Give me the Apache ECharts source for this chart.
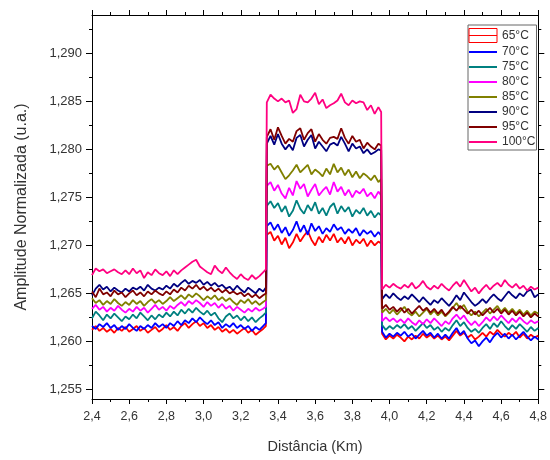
<!DOCTYPE html>
<html>
<head>
<meta charset="utf-8">
<title>Amplitude Normalizada x Distância</title>
<script src="https://cdn.jsdelivr.net/npm/echarts@6/dist/echarts.min.js"></script>
<style>
  html, body { margin: 0; padding: 0; background: #fff; }
  #chart { width: 550px; height: 460px; }
</style>
</head>
<body>
<div id="chart"></div>
<script>
// Distance along the fibre (km)
const distance = [
  2.40, 2.42, 2.44, 2.46, 2.48, 2.50, 2.52, 2.54, 2.56, 2.58,
  2.60, 2.62, 2.64, 2.66, 2.68, 2.70, 2.72, 2.74, 2.76, 2.78,
  2.80, 2.82, 2.84, 2.86, 2.88, 2.90, 2.92, 2.94, 2.96, 2.98,
  3.00, 3.02, 3.04, 3.06, 3.08, 3.10, 3.12, 3.14, 3.16, 3.18,
  3.20, 3.22, 3.24, 3.26, 3.28, 3.30, 3.32, 3.335,
  3.34, 3.36, 3.38, 3.40, 3.42, 3.44, 3.46, 3.48, 3.50, 3.52,
  3.54, 3.56, 3.58, 3.60, 3.62, 3.64, 3.66, 3.68, 3.70, 3.72,
  3.74, 3.76, 3.78, 3.80, 3.82, 3.84, 3.86, 3.88, 3.90, 3.92,
  3.94, 3.955,
  3.96, 3.98, 4.00, 4.02, 4.04, 4.06, 4.08, 4.10, 4.12, 4.14,
  4.16, 4.18, 4.20, 4.22, 4.24, 4.26, 4.28, 4.30, 4.32, 4.34,
  4.36, 4.38, 4.40, 4.42, 4.44, 4.46, 4.48, 4.50, 4.52, 4.54,
  4.56, 4.58, 4.60, 4.62, 4.64, 4.66, 4.68, 4.70, 4.72, 4.74,
  4.76, 4.78, 4.80
];

// Normalised amplitude (u.a.) for each temperature
const amp65 = [
  1.2612, 1.2616, 1.2611, 1.2614, 1.2610, 1.2613, 1.2609, 1.2614, 1.2611, 1.2615,
  1.2610, 1.2613, 1.2616, 1.2611, 1.2614, 1.2609, 1.2612, 1.2615, 1.2610, 1.2613,
  1.2617, 1.2612, 1.2615, 1.2611, 1.2616, 1.2619, 1.2614, 1.2618, 1.2621, 1.2616,
  1.2619, 1.2614, 1.2617, 1.2612, 1.2615, 1.2610, 1.2613, 1.2609, 1.2612, 1.2608,
  1.2611, 1.2614, 1.2609, 1.2612, 1.2607, 1.2610, 1.2613, 1.2616,
  1.2711, 1.2714, 1.2705, 1.2710, 1.2701, 1.2708, 1.2697, 1.2703, 1.2712, 1.2704,
  1.2710, 1.2715, 1.2706, 1.2700, 1.2709, 1.2703, 1.2711, 1.2705, 1.2712, 1.2703,
  1.2708, 1.2702, 1.2709, 1.2700, 1.2706, 1.2702, 1.2707, 1.2699, 1.2705, 1.2700,
  1.2704, 1.2702,
  1.2608, 1.2602, 1.2606, 1.2603, 1.2607, 1.2604, 1.2600, 1.2605, 1.2602, 1.2606,
  1.2603, 1.2608, 1.2604, 1.2607, 1.2603, 1.2606, 1.2602, 1.2605, 1.2601, 1.2606,
  1.2611, 1.2606, 1.2609, 1.2604, 1.2607, 1.2602, 1.2605, 1.2609, 1.2605, 1.2610,
  1.2607, 1.2612, 1.2608, 1.2605, 1.2609, 1.2606, 1.2610, 1.2604, 1.2608, 1.2603,
  1.2607, 1.2604, 1.2606
];
const amp70 = [
  1.2616, 1.2613, 1.2618, 1.2615, 1.2619, 1.2614, 1.2617, 1.2612, 1.2616, 1.2613,
  1.2618, 1.2614, 1.2611, 1.2616, 1.2613, 1.2617, 1.2614, 1.2619, 1.2615, 1.2618,
  1.2614, 1.2619, 1.2616, 1.2621, 1.2617, 1.2622, 1.2619, 1.2624, 1.2620, 1.2625,
  1.2621, 1.2618, 1.2622, 1.2617, 1.2620, 1.2614, 1.2618, 1.2615, 1.2619, 1.2614,
  1.2617, 1.2613, 1.2616, 1.2611, 1.2615, 1.2612, 1.2616, 1.2619,
  1.2720, 1.2724, 1.2716, 1.2722, 1.2713, 1.2719, 1.2710, 1.2716, 1.2725, 1.2714,
  1.2721, 1.2711, 1.2723, 1.2715, 1.2720, 1.2712, 1.2718, 1.2714, 1.2722, 1.2716,
  1.2719, 1.2712, 1.2717, 1.2713, 1.2718, 1.2710, 1.2716, 1.2712, 1.2715, 1.2709,
  1.2714, 1.2710,
  1.2610, 1.2604, 1.2608, 1.2605, 1.2609, 1.2606, 1.2610, 1.2605, 1.2608, 1.2603,
  1.2607, 1.2611, 1.2606, 1.2609, 1.2604, 1.2608, 1.2603, 1.2607, 1.2603, 1.2609,
  1.2614, 1.2607, 1.2611, 1.2603, 1.2598, 1.2601, 1.2595, 1.2600, 1.2604, 1.2599,
  1.2605, 1.2609, 1.2604, 1.2608, 1.2603, 1.2607, 1.2602, 1.2606, 1.2610, 1.2605,
  1.2601, 1.2605, 1.2602
];
const amp75 = [
  1.2624, 1.2631, 1.2627, 1.2622, 1.2628, 1.2624, 1.2629, 1.2625, 1.2621, 1.2626,
  1.2623, 1.2628, 1.2624, 1.2630, 1.2626, 1.2622, 1.2627, 1.2623, 1.2628, 1.2625,
  1.2630, 1.2626, 1.2631, 1.2627, 1.2633, 1.2629, 1.2634, 1.2630, 1.2635, 1.2631,
  1.2628, 1.2632, 1.2627, 1.2630, 1.2624, 1.2620, 1.2626, 1.2629, 1.2624, 1.2627,
  1.2622, 1.2626, 1.2621, 1.2625, 1.2620, 1.2624, 1.2627, 1.2630,
  1.2741, 1.2746, 1.2739, 1.2744, 1.2735, 1.2741, 1.2730, 1.2736, 1.2747, 1.2738,
  1.2733, 1.2742, 1.2736, 1.2745, 1.2733, 1.2739, 1.2731, 1.2740, 1.2744, 1.2733,
  1.2741, 1.2735, 1.2740, 1.2730, 1.2737, 1.2733, 1.2739, 1.2731, 1.2736, 1.2729,
  1.2734, 1.2731,
  1.2617, 1.2612, 1.2616, 1.2613, 1.2617, 1.2614, 1.2618, 1.2613, 1.2616, 1.2611,
  1.2615, 1.2619, 1.2614, 1.2617, 1.2612, 1.2615, 1.2610, 1.2614, 1.2611, 1.2617,
  1.2622, 1.2616, 1.2620, 1.2614, 1.2610, 1.2613, 1.2609, 1.2614, 1.2618, 1.2613,
  1.2619, 1.2615, 1.2621, 1.2616, 1.2612, 1.2617, 1.2613, 1.2618, 1.2614, 1.2610,
  1.2615, 1.2611, 1.2614
];
const amp80 = [
  1.2634, 1.2638, 1.2633, 1.2636, 1.2631, 1.2635, 1.2632, 1.2637, 1.2633, 1.2630,
  1.2634, 1.2631, 1.2636, 1.2632, 1.2635, 1.2630, 1.2634, 1.2638, 1.2633, 1.2636,
  1.2632, 1.2637, 1.2634, 1.2638, 1.2641, 1.2637, 1.2642, 1.2639, 1.2643, 1.2640,
  1.2636, 1.2641, 1.2637, 1.2640, 1.2635, 1.2639, 1.2634, 1.2637, 1.2632, 1.2636,
  1.2633, 1.2630, 1.2634, 1.2631, 1.2635, 1.2632, 1.2634, 1.2636,
  1.2762, 1.2766, 1.2757, 1.2763, 1.2754, 1.2749, 1.2760, 1.2752, 1.2767, 1.2759,
  1.2764, 1.2751, 1.2758, 1.2764, 1.2752, 1.2757, 1.2761, 1.2753, 1.2766, 1.2756,
  1.2761, 1.2752, 1.2758, 1.2750, 1.2757, 1.2754, 1.2759, 1.2751, 1.2755, 1.2749,
  1.2756, 1.2752,
  1.2621, 1.2625, 1.2621, 1.2624, 1.2620, 1.2623, 1.2619, 1.2624, 1.2620, 1.2617,
  1.2622, 1.2618, 1.2623, 1.2619, 1.2624, 1.2620, 1.2616, 1.2621, 1.2618, 1.2624,
  1.2628, 1.2623, 1.2627, 1.2621, 1.2617, 1.2621, 1.2616, 1.2620, 1.2625, 1.2621,
  1.2626, 1.2622, 1.2627, 1.2623, 1.2619, 1.2624, 1.2620, 1.2625, 1.2621, 1.2618,
  1.2622, 1.2619, 1.2621
];
const amp85 = [
  1.2645, 1.2640, 1.2643, 1.2638, 1.2642, 1.2639, 1.2644, 1.2640, 1.2637, 1.2641,
  1.2638, 1.2643, 1.2639, 1.2642, 1.2637, 1.2641, 1.2644, 1.2640, 1.2643, 1.2639,
  1.2642, 1.2646, 1.2642, 1.2645, 1.2648, 1.2644, 1.2649, 1.2646, 1.2650, 1.2647,
  1.2643, 1.2647, 1.2644, 1.2648, 1.2643, 1.2646, 1.2642, 1.2645, 1.2641, 1.2638,
  1.2643, 1.2640, 1.2644, 1.2639, 1.2642, 1.2638, 1.2641, 1.2643,
  1.2783, 1.2785, 1.2779, 1.2783, 1.2776, 1.2769, 1.2773, 1.2778, 1.2784, 1.2776,
  1.2780, 1.2784, 1.2774, 1.2779, 1.2776, 1.2772, 1.2780, 1.2774, 1.2785, 1.2776,
  1.2781, 1.2773, 1.2779, 1.2771, 1.2777, 1.2770, 1.2775, 1.2772, 1.2768, 1.2773,
  1.2766, 1.2769,
  1.2630, 1.2634, 1.2629, 1.2633, 1.2628, 1.2632, 1.2636, 1.2630, 1.2627, 1.2631,
  1.2626, 1.2630, 1.2634, 1.2628, 1.2632, 1.2627, 1.2631, 1.2626, 1.2630, 1.2635,
  1.2640, 1.2634, 1.2638, 1.2631, 1.2627, 1.2631, 1.2626, 1.2630, 1.2634, 1.2629,
  1.2633, 1.2637, 1.2631, 1.2635, 1.2630, 1.2634, 1.2629, 1.2633, 1.2628, 1.2632,
  1.2627, 1.2631, 1.2629
];
const amp90 = [
  1.2648, 1.2655, 1.2659, 1.2654, 1.2657, 1.2652, 1.2656, 1.2653, 1.2651, 1.2655,
  1.2652, 1.2656, 1.2654, 1.2657, 1.2653, 1.2659, 1.2655, 1.2653, 1.2656, 1.2654,
  1.2658, 1.2655, 1.2660, 1.2657, 1.2661, 1.2664, 1.2660, 1.2663, 1.2661, 1.2664,
  1.2659, 1.2662, 1.2658, 1.2661, 1.2657, 1.2659, 1.2655, 1.2657, 1.2653, 1.2658,
  1.2654, 1.2651, 1.2656, 1.2653, 1.2650, 1.2655, 1.2652, 1.2656,
  1.2806, 1.2814, 1.2805, 1.2816, 1.2806, 1.2800, 1.2805, 1.2799, 1.2812, 1.2815,
  1.2803, 1.2810, 1.2815, 1.2801, 1.2808, 1.2803, 1.2798, 1.2805, 1.2807, 1.2804,
  1.2813, 1.2806, 1.2798, 1.2806, 1.2801, 1.2803, 1.2796, 1.2800, 1.2795, 1.2797,
  1.2800, 1.2799,
  1.2644, 1.2649, 1.2645, 1.2650, 1.2646, 1.2643, 1.2647, 1.2644, 1.2649, 1.2645,
  1.2641, 1.2646, 1.2642, 1.2638, 1.2643, 1.2640, 1.2645, 1.2641, 1.2637, 1.2642,
  1.2648, 1.2643, 1.2651, 1.2646, 1.2641, 1.2637, 1.2640, 1.2644, 1.2640, 1.2645,
  1.2649, 1.2645, 1.2642, 1.2647, 1.2652, 1.2648, 1.2645, 1.2650, 1.2647, 1.2652,
  1.2654, 1.2646, 1.2649
];
const amp95 = [
  1.2652, 1.2646, 1.2655, 1.2649, 1.2651, 1.2647, 1.2653, 1.2649, 1.2651, 1.2646,
  1.2650, 1.2653, 1.2648, 1.2651, 1.2647, 1.2652, 1.2649, 1.2653, 1.2650, 1.2648,
  1.2652, 1.2649, 1.2654, 1.2651, 1.2656, 1.2653, 1.2658, 1.2655, 1.2659, 1.2654,
  1.2657, 1.2653, 1.2656, 1.2652, 1.2655, 1.2651, 1.2654, 1.2650, 1.2652, 1.2649,
  1.2651, 1.2647, 1.2650, 1.2646, 1.2649, 1.2645, 1.2648, 1.2650,
  1.2813, 1.2821, 1.2810, 1.2823, 1.2814, 1.2806, 1.2811, 1.2808, 1.2819, 1.2822,
  1.2810, 1.2817, 1.2821, 1.2808, 1.2816, 1.2810, 1.2806, 1.2812, 1.2813, 1.2811,
  1.2822, 1.2812, 1.2806, 1.2814, 1.2808, 1.2810, 1.2801, 1.2807, 1.2803, 1.2800,
  1.2806, 1.2804,
  1.2634, 1.2638, 1.2633, 1.2636, 1.2631, 1.2635, 1.2630, 1.2634, 1.2629, 1.2633,
  1.2637, 1.2632, 1.2635, 1.2630, 1.2634, 1.2629, 1.2633, 1.2627, 1.2631, 1.2636,
  1.2632, 1.2637, 1.2633, 1.2629, 1.2633, 1.2628, 1.2632, 1.2627, 1.2631, 1.2635,
  1.2630, 1.2634, 1.2629, 1.2633, 1.2628, 1.2632, 1.2627, 1.2631, 1.2626, 1.2630,
  1.2625, 1.2629, 1.2626
];
const amp100 = [
  1.2669, 1.2676, 1.2673, 1.2675, 1.2671, 1.2673, 1.2675, 1.2672, 1.2670, 1.2674,
  1.2670, 1.2676, 1.2671, 1.2674, 1.2666, 1.2672, 1.2669, 1.2675, 1.2671, 1.2669,
  1.2673, 1.2668, 1.2674, 1.2670, 1.2674, 1.2677, 1.2680, 1.2683, 1.2685, 1.2678,
  1.2675, 1.2672, 1.2670, 1.2679, 1.2674, 1.2671, 1.2677, 1.2672, 1.2668, 1.2665,
  1.2670, 1.2666, 1.2664, 1.2669, 1.2665, 1.2668, 1.2672, 1.2675,
  1.2849, 1.2857, 1.2853, 1.2850, 1.2853, 1.2849, 1.2851, 1.2838, 1.2842, 1.2857,
  1.2850, 1.2849, 1.2853, 1.2859, 1.2847, 1.2852, 1.2843, 1.2846, 1.2848, 1.2851,
  1.2858, 1.2849, 1.2846, 1.2851, 1.2848, 1.2850, 1.2849, 1.2841, 1.2846, 1.2837,
  1.2844, 1.2839,
  1.2654, 1.2659, 1.2656, 1.2660, 1.2657, 1.2655, 1.2659, 1.2656, 1.2661, 1.2655,
  1.2658, 1.2663, 1.2657, 1.2654, 1.2658, 1.2655, 1.2660, 1.2656, 1.2653, 1.2658,
  1.2662, 1.2657, 1.2664, 1.2658, 1.2652, 1.2656, 1.2650, 1.2655, 1.2659, 1.2654,
  1.2658, 1.2661, 1.2657, 1.2664, 1.2659, 1.2656, 1.2660, 1.2655, 1.2658, 1.2653,
  1.2657, 1.2654, 1.2656
];

const temperatures = ['65°C', '70°C', '75°C', '80°C', '85°C', '90°C', '95°C', '100°C'];
const amplitudes = [amp65, amp70, amp75, amp80, amp85, amp90, amp95, amp100];

// Tick positions for the amplitude axis
const yTicks = [1.255, 1.260, 1.265, 1.270, 1.275, 1.280, 1.285, 1.290];
const yMinorTicks = [1.2575, 1.2625, 1.2675, 1.2725, 1.2775, 1.2825, 1.2875, 1.2925];

const palette = ['#ff0000', '#0000ff', '#008080', '#ff00ff', '#808000', '#000080', '#800000', '#ff0080'];
const FONT = '"Liberation Sans", Arial, sans-serif';
const Y_MIN = 1.254, Y_MAX = 1.294;

const comma = (v, d) => v.toFixed(d).replace('.', ',');

function frameY(position, ticks, len, withLine, extra) {
  return Object.assign({
    type: 'value', position: position, min: Y_MIN, max: Y_MAX,
    axisLine: { show: withLine, lineStyle: { color: '#000', width: 1 } },
    axisTick: { show: true, inside: false, length: len, customValues: ticks, lineStyle: { color: '#000', width: 1 } },
    axisLabel: { show: false },
    splitLine: { show: false }
  }, extra || {});
}

const chart = echarts.init(document.getElementById('chart'), null, { renderer: 'canvas' });

chart.setOption({
  animation: false,
  backgroundColor: '#ffffff',
  textStyle: { fontFamily: FONT },
  grid: { left: 92, right: 10, top: 15, bottom: 61, containLabel: false },
  legend: {
    orient: 'vertical',
    left: 468, top: 25,
    padding: [3, 1, 2, 0],
    itemWidth: 28, itemHeight: 14, itemGap: 3,
    borderColor: '#666', borderWidth: 1,
    backgroundColor: '#fff',
    // keep only the line sample in each legend entry
    itemStyle: { opacity: 0 },
    textStyle: { fontSize: 12, color: '#333', fontFamily: FONT },
    data: temperatures.map((t, i) => i === 0
      ? { name: t, icon: 'path://M0,0H28V14H0Z M0,7H28',
          itemStyle: { opacity: 1, color: 'rgba(0,0,0,0)', borderColor: palette[0], borderWidth: 1 } }
      : t)
  },
  xAxis: [
    {
      type: 'value', position: 'bottom', min: 2.4, max: 4.8, interval: 0.2,
      name: 'Distância (Km)', nameLocation: 'middle', nameGap: 40,
      nameTextStyle: { fontSize: 14.5, color: '#333', fontFamily: FONT },
      axisLine: { show: true, lineStyle: { color: '#000', width: 1 } },
      axisTick: { show: true, inside: false, length: 5, lineStyle: { color: '#000' } },
      minorTick: { show: true, splitNumber: 2, length: 3, lineStyle: { color: '#000' } },
      axisLabel: { show: true, margin: 11, fontSize: 12.5, color: '#333', fontFamily: FONT,
                   formatter: v => comma(v, 1) },
      splitLine: { show: false }
    },
    {
      type: 'value', position: 'top', min: 2.4, max: 4.8, interval: 0.2,
      axisLine: { show: true, lineStyle: { color: '#000', width: 1 } },
      axisTick: { show: true, inside: false, length: 5, lineStyle: { color: '#000' } },
      minorTick: { show: true, splitNumber: 2, length: 3, lineStyle: { color: '#000' } },
      axisLabel: { show: false },
      splitLine: { show: false }
    }
  ],
  yAxis: [
    frameY('left', yTicks, 6, true, {
      name: 'Amplitude Normalizada (u.a.)', nameLocation: 'middle', nameGap: 62,
      nameTextStyle: { fontSize: 16, color: '#333', fontFamily: FONT },
      axisLabel: { show: true, margin: 10, fontSize: 13, color: '#333', fontFamily: FONT,
                   customValues: yTicks, formatter: v => comma(v, 3) }
    }),
    frameY('left', yMinorTicks, 3, false),
    frameY('right', yTicks, 6, true),
    frameY('right', yMinorTicks, 3, false)
  ],
  series: temperatures.map((t, i) => ({
    name: t,
    type: 'line',
    xAxisIndex: 0,
    yAxisIndex: 0,
    symbol: 'none',
    smooth: false,
    color: palette[i],
    lineStyle: { color: palette[i], width: 1.8 },
    data: distance.map((d, k) => [d, amplitudes[i][k]])
  }))
});
</script>
</body>
</html>
